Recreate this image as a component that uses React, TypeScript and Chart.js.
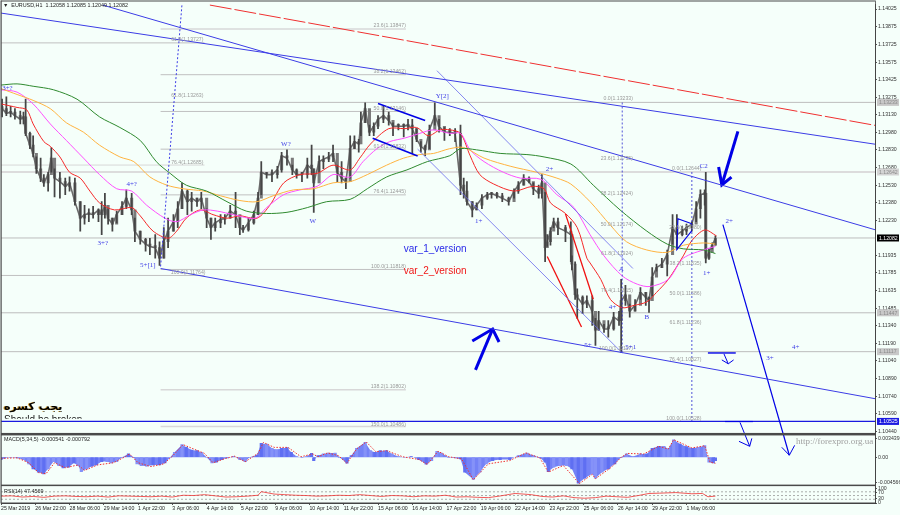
import React, { useEffect, useRef } from "react";
import { Chart, registerables } from "chart.js";
Chart.register(...registerables);

// ---------- time axis ----------
const dateLabels = ["25 Mar 2019","26 Mar 22:00","28 Mar 06:00","29 Mar 14:00","1 Apr 22:00","3 Apr 06:00","4 Apr 14:00","5 Apr 22:00","9 Apr 06:00","10 Apr 14:00","11 Apr 22:00","15 Apr 06:00","16 Apr 14:00","17 Apr 22:00","19 Apr 06:00","22 Apr 14:00","23 Apr 22:00","25 Apr 06:00","26 Apr 14:00","29 Apr 22:00","1 May 06:00"];
const priceTicks = [1.14025,1.13875,1.13725,1.13575,1.13425,1.13275,1.1313,1.1298,1.1283,1.1268,1.1253,1.1238,1.1223,1.11935,1.11785,1.11635,1.11485,1.1134,1.1119,1.1104,1.1089,1.1074,1.1059,1.1044];

// ---------- price ----------
const priceBars = [1,5,9,13,18,21,23,27,30,33,37,40,44,47,50,55,60,64,69,74,78,82,86,91,94,97,100,104,108,113,117,122,125,130,135,139,144,148,152,156,161,165,169,174,178,183,187,192,196,200,205,209,214,219,223,226,231,236,240,243,248,253,258,262,267,272,276,281,286,290,292,297,301,306,310,314,318,322,326,330,334,336,340,344,348,352,357,362,366,371,376,380,384,388,392,396,400,405,409,414,419,424,429,432,435,440,444,449,454,458,463,468,474,479,483,488,493,497,502,505,508,510,513,516,520,527,532,533,536,538,543,547,552,555,558,563,567,572,577,579,583,587,592,597,602,605,608,612,617,622,627,631,636,640,645,649,653,657,658,661,664,667];
const highs = [1.1326,1.1328,1.1320,1.1318,1.1316,1.1315,1.1326,1.1298,1.1295,1.1277,1.1276,1.1262,1.1264,1.1285,1.1267,1.1264,1.1259,1.1260,1.1259,1.1239,1.1236,1.1233,1.1235,1.1233,1.1239,1.1246,1.1233,1.1225,1.1231,1.1239,1.1249,1.1246,1.1225,1.1214,1.1208,1.1208,1.1211,1.1205,1.1217,1.1225,1.1228,1.1239,1.1255,1.1249,1.1247,1.1242,1.1247,1.1233,1.1225,1.1225,1.1228,1.1228,1.1236,1.1247,1.1225,1.1219,1.1225,1.1231,1.1247,1.1273,1.1264,1.1266,1.1269,1.1281,1.1283,1.1270,1.1267,1.1264,1.1276,1.1287,1.1267,1.1278,1.1278,1.1281,1.1287,1.1270,1.1273,1.1259,1.1295,1.1295,1.1292,1.1315,1.1323,1.1304,1.1306,1.1312,1.1320,1.1315,1.1306,1.1305,1.1305,1.1309,1.1309,1.1301,1.1290,1.1287,1.1304,1.1323,1.1309,1.1302,1.1301,1.1301,1.1304,1.1259,1.1256,1.1239,1.1238,1.1245,1.1247,1.1247,1.1247,1.1246,1.1243,1.1250,1.1256,1.1262,1.1260,1.1255,1.1253,1.1262,1.1247,1.1211,1.1217,1.1225,1.1225,1.1219,1.1222,1.1193,1.1188,1.1165,1.1159,1.1159,1.1159,1.1140,1.1146,1.1135,1.1138,1.1145,1.1146,1.1173,1.1168,1.1152,1.1156,1.1166,1.1162,1.1158,1.1183,1.1186,1.1191,1.1198,1.1228,1.1228,1.1218,1.1220,1.1222,1.1239,1.1249,1.1249,1.1264,1.1199,1.1204,1.1210];
const lows = [1.1311,1.1312,1.1311,1.1309,1.1305,1.1305,1.1295,1.1284,1.1277,1.1263,1.1256,1.1252,1.1248,1.1264,1.1243,1.1242,1.1245,1.1248,1.1236,1.1214,1.1220,1.1222,1.1225,1.1222,1.1211,1.1225,1.1220,1.1214,1.1221,1.1228,1.1233,1.1228,1.1205,1.1203,1.1197,1.1194,1.1191,1.1185,1.1191,1.1200,1.1214,1.1217,1.1233,1.1228,1.1231,1.1235,1.1233,1.1217,1.1207,1.1214,1.1217,1.1220,1.1225,1.1217,1.1211,1.1213,1.1214,1.1220,1.1228,1.1245,1.1259,1.1256,1.1259,1.1264,1.1270,1.1262,1.1259,1.1256,1.1259,1.1262,1.1230,1.1264,1.1267,1.1273,1.1273,1.1256,1.1255,1.1250,1.1259,1.1284,1.1281,1.1295,1.1306,1.1295,1.1295,1.1301,1.1306,1.1304,1.1295,1.1300,1.1294,1.1300,1.1280,1.1290,1.1281,1.1278,1.1284,1.1304,1.1298,1.1291,1.1295,1.1290,1.1245,1.1242,1.1236,1.1226,1.1232,1.1233,1.1241,1.1242,1.1242,1.1239,1.1236,1.1242,1.1246,1.1253,1.1255,1.1245,1.1242,1.1242,1.1188,1.1201,1.1202,1.1217,1.1211,1.1205,1.1188,1.1181,1.1156,1.1140,1.1144,1.1149,1.1134,1.1117,1.1130,1.1128,1.1124,1.1130,1.1134,1.1111,1.1151,1.1141,1.1146,1.1156,1.1151,1.1145,1.1159,1.1180,1.1183,1.1176,1.1203,1.1199,1.1210,1.1211,1.1214,1.1222,1.1225,1.1236,1.1187,1.1190,1.1199,1.1202];
const closes = [1.1318,1.1314,1.1315,1.1312,1.1309,1.1311,1.1297,1.1287,1.1280,1.1267,1.1259,1.1255,1.1262,1.1276,1.1259,1.1256,1.1252,1.1255,1.1239,1.1225,1.1228,1.1229,1.1228,1.1232,1.1228,1.1236,1.1225,1.1220,1.1228,1.1235,1.1242,1.1232,1.1214,1.1207,1.1203,1.1201,1.1200,1.1191,1.1205,1.1214,1.1222,1.1233,1.1248,1.1239,1.1242,1.1239,1.1242,1.1225,1.1217,1.1221,1.1224,1.1225,1.1231,1.1228,1.1217,1.1215,1.1221,1.1228,1.1242,1.1264,1.1262,1.1262,1.1266,1.1278,1.1276,1.1266,1.1262,1.1262,1.1270,1.1267,1.1255,1.1273,1.1275,1.1277,1.1280,1.1264,1.1259,1.1256,1.1284,1.1290,1.1288,1.1306,1.1318,1.1298,1.1303,1.1309,1.1312,1.1308,1.1303,1.1303,1.1303,1.1304,1.1301,1.1292,1.1286,1.1283,1.1300,1.1312,1.1303,1.1298,1.1298,1.1297,1.1253,1.1248,1.1239,1.1232,1.1236,1.1242,1.1245,1.1246,1.1244,1.1242,1.1239,1.1248,1.1253,1.1259,1.1256,1.1250,1.1246,1.1255,1.1200,1.1205,1.1214,1.1222,1.1217,1.1214,1.1211,1.1186,1.1160,1.1158,1.1152,1.1155,1.1146,1.1130,1.1138,1.1131,1.1131,1.1141,1.1138,1.1155,1.1160,1.1146,1.1151,1.1162,1.1158,1.1155,1.1175,1.1183,1.1186,1.1194,1.1217,1.1211,1.1214,1.1217,1.1220,1.1233,1.1245,1.1246,1.1191,1.1196,1.1202,1.1208];

// ---------- moving averages [bar, price] ----------
const maRed = [[0,1.1322],[15,1.1319],[24,1.1317],[30,1.1305],[40,1.1290],[46,1.1286],[55,1.1277],[64,1.1264],[74,1.1259],[83,1.1248],[92,1.1238],[106,1.1232],[122,1.1234],[130,1.1227],[142,1.1214],[156,1.1208],[164,1.1214],[173,1.1225],[186,1.1232],[198,1.1228],[211,1.1225],[223,1.1227],[239,1.1225],[251,1.1236],[264,1.1255],[279,1.1262],[295,1.1263],[310,1.1270],[326,1.1266],[335,1.1276],[345,1.1288],[362,1.1301],[377,1.1301],[388,1.1302],[399,1.1295],[410,1.1300],[419,1.1300],[429,1.1297],[438,1.1278],[447,1.1262],[460,1.1254],[479,1.1248],[496,1.1252],[507,1.1250],[513,1.1238],[527,1.1229],[538,1.1217],[547,1.1191],[550,1.1187],[560,1.1173],[569,1.1156],[580,1.1149],[591,1.1151],[603,1.1154],[612,1.1162],[623,1.1173],[637,1.1193],[645,1.1206],[657,1.1215],[668,1.1210]];
const maMagenta = [[0,1.1334],[15,1.1332],[30,1.1322],[46,1.1305],[61,1.1291],[77,1.1276],[92,1.1262],[108,1.1250],[122,1.1248],[136,1.1236],[153,1.1225],[164,1.1222],[177,1.1228],[189,1.1232],[202,1.1231],[217,1.1228],[237,1.1225],[248,1.1234],[264,1.1245],[279,1.1249],[295,1.1252],[310,1.1262],[326,1.1260],[338,1.1273],[351,1.1284],[363,1.1290],[377,1.1293],[391,1.1297],[404,1.1300],[419,1.1297],[429,1.1297],[438,1.1283],[451,1.1273],[469,1.1264],[485,1.1259],[504,1.1258],[519,1.1245],[535,1.1234],[550,1.1211],[563,1.1193],[580,1.1176],[594,1.1169],[606,1.1167],[623,1.1173],[637,1.1191],[659,1.1199],[667,1.1201]];
const maOrange = [[0,1.1335],[15,1.1330],[30,1.1325],[46,1.1318],[61,1.1306],[77,1.1298],[92,1.1287],[111,1.1277],[124,1.1273],[139,1.1260],[155,1.1253],[170,1.1250],[189,1.1248],[205,1.1244],[223,1.1240],[239,1.1239],[254,1.1244],[273,1.1249],[292,1.1250],[310,1.1255],[326,1.1256],[342,1.1262],[360,1.1270],[376,1.1276],[391,1.1279],[404,1.1280],[419,1.1284],[432,1.1285],[451,1.1276],[476,1.1269],[500,1.1264],[519,1.1259],[532,1.1254],[550,1.1239],[569,1.1219],[584,1.1205],[603,1.1198],[622,1.1196],[637,1.1202],[656,1.1204],[667,1.1203]];
const maGreen = [[0,1.1338],[15,1.1339],[30,1.1337],[49,1.1334],[71,1.1326],[92,1.1311],[111,1.1302],[130,1.1291],[145,1.1273],[158,1.1263],[173,1.1253],[192,1.1248],[211,1.1239],[229,1.1231],[248,1.1229],[267,1.1230],[286,1.1234],[304,1.1239],[326,1.1241],[342,1.1250],[360,1.1260],[379,1.1266],[398,1.1273],[419,1.1278],[429,1.1284],[444,1.1283],[466,1.1280],[491,1.1279],[507,1.1277],[532,1.1271],[553,1.1253],[578,1.1232],[603,1.1214],[622,1.1203],[637,1.1199],[656,1.1198],[667,1.1195]];

// ---------- MACD ----------
const macdBars = [0,3,9,15,21,26,30,35,40,44,49,54,58,63,68,72,75,80,85,89,94,99,103,108,113,119,124,127,131,136,142,148,153,158,162,169,173,178,183,187,192,197,201,206,211,217,223,228,232,239,243,248,253,257,262,267,271,276,281,285,290,292,296,301,306,312,316,323,327,332,340,345,349,354,360,365,371,377,383,390,397,402,407,411,418,429,433,441,447,453,459,466,475,483,491,497,503,508,511,516,522,528,533,539,545,552,555,561,567,573,579,584,590,597,603,608,614,619,623,628,634,640,646,651,657,661,665,667];
const macdValues = [-0.00042,-0.00018,0,-0.00012,-0.00042,-0.0012,-0.00211,-0.00272,-0.00302,-0.00211,-0.00078,-0.00151,-0.00193,-0.00181,-0.00103,-0.00151,-0.0026,-0.00211,-0.00162,-0.00139,-0.00078,-0.00078,-0.00103,-0.00078,0,0.00061,0,-0.0012,-0.00151,-0.00162,-0.00139,-0.00139,-0.00103,0,0.00091,0.00229,0.00181,0.00133,0.0012,0.00091,0,-0.00103,-0.00091,-0.00042,-0.00012,0.00018,-0.00042,-0.00078,0,0.00042,0.00253,0.00241,0.00162,0.00139,0.00162,0.00175,0.00091,0.00012,-0.00006,0.00012,0.00073,-0.00061,0.0003,0.00061,0.00078,0.00078,0,-0.00108,0.0003,0.00162,0.00272,0.0012,0.00091,0.0012,0.0012,0.00061,0.00012,0,0.00012,-0.00042,-0.00127,-0.00061,0.00108,0.00078,0,-0.0003,-0.00272,-0.00404,-0.00272,-0.0012,-0.00061,-0.00042,-0.00042,0.0003,0.00078,0.0003,-0.00006,-0.00091,-0.0026,-0.00181,-0.00151,-0.00151,-0.00211,-0.00471,-0.0038,-0.00302,-0.0038,-0.00272,-0.00211,-0.0012,0,0.00061,0.00012,0.00061,0.00061,0.00162,0.00199,0.00199,0.00151,0.00319,0.00241,0.00193,0.00162,0.00181,0.00211,-0.00091,-0.00103,-0.00061];
const macdSignal = [[0,-0.0002],[15,-0.0001],[26,-0.001],[35,-0.0028],[42,-0.003],[50,-0.001],[60,-0.0019],[72,-0.0014],[78,-0.0024],[90,-0.0014],[105,-0.001],[115,0],[120,0.0006],[128,-0.001],[140,-0.0017],[152,-0.0012],[160,0.0002],[170,0.0023],[180,0.0015],[190,0.0007],[198,-0.001],[210,-0.0002],[218,0.0002],[228,-0.0008],[240,0.0007],[245,0.0027],[255,0.0018],[268,0.0018],[280,0.0001],[291,0.0006],[296,0.0001],[305,0.0008],[315,0.0003],[323,-0.0011],[332,0.0015],[341,0.0028],[350,0.001],[360,0.0012],[375,0.0001],[390,-0.0004],[398,-0.0013],[408,0.0011],[418,0.0001],[430,-0.0003],[441,-0.0041],[455,-0.0012],[475,-0.0006],[490,0.0008],[503,-0.0001],[511,-0.0027],[525,-0.0015],[540,-0.0048],[552,-0.0031],[555,-0.0039],[570,-0.0018],[579,0],[585,0.0007],[600,0.0006],[614,0.002],[623,0.0015],[628,0.0032],[645,0.0017],[657,0.0021],[662,-0.0009],[667,-0.0011]];

// ---------- RSI ----------
const rsiBars = [0,10,20,30,40,50,60,70,80,90,100,110,120,130,140,150,160,170,180,190,200,210,220,230,240,243,255,265,275,285,295,305,315,325,335,345,355,365,375,385,395,405,415,425,435,445,455,465,475,480,495,505,515,525,535,545,555,565,575,585,595,605,615,630,645,655,660,667];
const rsiValues = [46,48,40,44,38,46,48,44,42,46,40,48,46,44,42,46,40,52,50,56,48,40,42,46,52,76,60,56,52,50,46,48,52,50,56,50,44,50,48,42,48,46,52,40,42,38,36,46,58,64,56,44,40,48,36,32,36,46,42,38,50,64,66,70,62,64,42,46];
const rsiLevels = [75, 50, 25];

// ---------- drawn objects, [bar, price] ----------
const channelTop = [[0,1.13991],[816,1.12878]];
const channelMid = [[95,1.14059],[816,1.12152]];
const channelLow = [[149,1.11823],[816,1.10718]];
const redDashed = [[195,1.14059],[816,1.13038]];
const thinDiagA = [[407,1.13502],[590,1.11823]];
const thinDiagB = [[389,1.12836],[580,1.11106]];
const slantDotted = [[149,1.1184],[169,1.14067]];
const fibVertA = [[580,1.13232],[580,1.11115]];
const fibVertB = [[645,1.12642],[645,1.10524]];
const flagTop = [[352,1.13224],[396,1.1308]];
const flagBottom = [[347,1.12928],[389,1.12777]];
const triangle = [[645,1.12203],[632,1.12245],[631,1.11984],[645,1.12144]];
const redTrendA = [[527,1.12287],[553,1.11562]];
const redTrendB = [[510,1.11925],[542,1.11326]];
const bigArrowUp = [[443,1.10963],[459,1.11309]];
const bigArrowUpHead = [[440,1.11208],[459,1.11309],[465,1.11199]];
const bigArrowDown = [[688,1.12987],[673,1.12532]];
const bigArrowDownHead = [[670,1.12684],[673,1.12532],[682,1.12599]];
const projection = [[674,1.12195],[736,1.10238]];
const projectionHead = [[729,1.10305],[736,1.10238],[741,1.10322]];
const stopA = [[660,1.11106],[686,1.11106]];
const stopAArrow = [[675,1.11098],[679,1.11014]];
const stopAHead = [[673,1.11047],[679,1.11014],[684,1.11047]];
const stopB = [[676,1.10524],[702,1.10524]];
const stopBArrow = [[690,1.10516],[699,1.10314]];
const stopBHead = [[689,1.10356],[699,1.10314],[701,1.10381]];

const fullLevels = [1.13233, 1.11447, 1.11117, 1.12082];
const lightLevel = 1.12642;
const blueLevel = 1.10525;
const fibALevels = [1.13856, 1.13468, 1.13156, 1.12836, 1.12448, 1.11815, 1.10794, 1.10482];
const fibARange = [149, 378];
const fibBLevels = [1.13738, 1.12701, 1.11764];
const fibBRange = [0, 190];

// ---------- texts [text, bar, price] ----------
const waveLabels: [string, number, number][] = [["3+?",6,1.1335],["3+?",95,1.12034],["4+?",122,1.1254],["5+[1]",137,1.11849],["W?",266,1.12878],["W",291,1.12228],["Y[2]",412,1.13283],["1+",446,1.12228],["2+",512,1.12667],["C2",656,1.12692],["2+",680,1.12228],["1+",659,1.11781],["A",579,1.11815],["B",603,1.1141],["4+",571,1.11495],["5+",548,1.11174],["5+1",588,1.11157],["3+",718,1.11064],["4+",742,1.11157]];
const fibLabels: [string, number, number][] = [["23.6(1.13847)",378,1.13882],["38.2(1.13462)",378,1.13494],["50.0(1.13146)",378,1.13182],["61.8(1.12832)",378,1.12861],["76.4(1.12445)",378,1.12473],["100.0(1.11818)",378,1.1184],["138.2(1.10802)",378,1.1082],["150.0(1.10486)",378,1.10499],["61.8(1.13727)",189,1.13763],["61.8(1.13263)",189,1.13291],["76.4(1.12685)",189,1.12718],["100.0(1.11764)",191,1.1179],["0.0(1.13233)",590,1.13266],["23.6(1.12735)",590,1.1276],["38.2(1.12424)",590,1.12456],["50.0(1.12174)",590,1.12195],["61.8(1.11924)",590,1.1195],["76.4(1.11615)",590,1.11638],["100.0(1.11117)",590,1.1114],["0.0(1.12644)",654,1.12675],["23.6(1.12180)",654,1.12169],["38.2(1.11835)",654,1.11866],["50.0(1.11586)",654,1.11613],["61.8(1.11236)",654,1.1136],["76.4(1.10827)",654,1.11047],["100.0(1.10528)",654,1.1055]];
const priceTags: [number, string][] = [[1.13233,"#c8c8c8"],[1.12642,"#d4d4d4"],[1.11447,"#c8c8c8"],[1.11117,"#c8c8c8"],[1.12082,"#000000"],[1.10525,"#1a1ae0"]];

const BLUE = "#3c3ce6";
const SOLID = "#0000e6";
const pts = (a: number[][]) => a.map(([x, y]) => ({ x, y }));
const line = (a: number[][], color: string, borderWidth = 1, extra: any = {}) => ({
  type: "line", data: pts(a), borderColor: color, borderWidth, pointRadius: 0, tension: 0, xAxisID: "x", yAxisID: "y", clip: false, order: 1, ...extra,
});

export default function App() {
  const ref = useRef<HTMLCanvasElement>(null);
  useEffect(() => {
    const fullSpan = [0, 816];
    const hLine = (v: number, range: number[], color: string, w = 1) => line(range.map((x) => [x, v]), color, w, { order: 10, clip: true });
    const rsiLine = (v: number) => ({ type: "line", data: [{ x: 0, y: v }, { x: 816, y: v }], borderColor: "#888", borderWidth: 0.7, borderDash: [2, 2], pointRadius: 0, xAxisID: "x", yAxisID: "yRsi", order: 3 });
    const textPlugin = {
      id: "texts",
      afterDatasetsDraw(chart: any) {
        const { ctx, scales, chartArea } = chart;
        const X = scales.x, Y = scales.y, M = scales.yMacd, R = scales.yRsi;
        ctx.save();
        ctx.textBaseline = "middle";
        ctx.textAlign = "right";
        ctx.font = '5.2px "Liberation Sans"';
        ctx.fillStyle = "#9a9a9a";
        fibLabels.forEach(([t, b, p]) => ctx.fillText(t, X.getPixelForValue(b), Y.getPixelForValue(p)));
        ctx.textAlign = "center";
        ctx.font = '7px "Liberation Serif"';
        ctx.fillStyle = "#3c3ce6";
        waveLabels.forEach(([t, b, p]) => ctx.fillText(t, X.getPixelForValue(b), Y.getPixelForValue(p)));
        ctx.textAlign = "left";
        ctx.font = '10px "Liberation Sans"';
        ctx.fillStyle = "#2a2ae8";
        ctx.fillText("var_1_version", X.getPixelForValue(376), Y.getPixelForValue(1.11984));
        ctx.fillStyle = "#f01818";
        ctx.fillText("var_2_version", X.getPixelForValue(376), Y.getPixelForValue(1.11798));
        // clipped comment under the Persian note
        ctx.save();
        ctx.beginPath();
        ctx.rect(0, 412, 200, 6.8);
        ctx.clip();
        ctx.fillStyle = "#111";
        ctx.font = '10px "Liberation Sans"';
        ctx.fillText("Should be broken", 4, 420);
        ctx.restore();
        ctx.font = 'bold 11px "DejaVu Sans"';
        ctx.fillStyle = "#d9a030";
        ctx.fillText("يجب كسره", 3, 407.5);
        ctx.fillStyle = "#000";
        ctx.fillText("يجب كسره", 4, 407);
        // captions
        ctx.font = '5.4px "Liberation Sans"';
        ctx.fillStyle = "#222";
        ctx.fillText("▼  EURUSD,H1  1.12058 1.12085 1.12049 1.12082", 3, 6);
        ctx.fillText("MACD(5,34,5) -0.000541 -0.000792", 4, M.top + 6);
        ctx.fillText("RSI(14) 47.4569", 4, R.top + 6);
        ctx.font = '9px "Liberation Serif"';
        ctx.fillStyle = "#a0a0a0";
        ctx.fillText("http://forexpro.org.ua", 796, 442);
        // pane frames
        const l = chartArea.left, r = chartArea.right;
        ctx.fillStyle = "#4a4a4a";
        ctx.fillRect(l, M.top - 0.5, r - l, 2.5);
        ctx.fillRect(l, R.top - 0.5, r - l, 1.5);
        ctx.fillRect(l, chartArea.bottom - 0.5, r - l, 1.2);
        ctx.fillRect(l - 0.5, 0.5, 1.2, chartArea.bottom);
        ctx.fillRect(l, 0.5, r - l, 1);
        ctx.fillRect(r, 0.5, 0.8, chartArea.bottom);
        // price tags
        ctx.textAlign = "left";
        ctx.font = '5.2px "Liberation Sans"';
        priceTags.forEach(([v, c]) => {
          const y = Y.getPixelForValue(v);
          ctx.fillStyle = c;
          ctx.fillRect(r + 2, y - 3.5, 22, 7);
          ctx.fillStyle = c === "#000000" || c === "#1a1ae0" ? "#ffffff" : "#8a8a8a";
          ctx.fillText(v.toFixed(5), r + 4, y + 0.3);
        });
        ctx.restore();
      },
    };
    const common = (extra: any) => ({
      position: "right",
      stack: "panes",
      offset: false,
      grid: { drawOnChartArea: false, tickLength: 2, color: "#555" },
      border: { color: "#333" },
      afterFit: (s: any) => { s.width = 25; },
      ...extra,
    });
    const tickStyle = { padding: 1, color: "#333", autoSkip: false, font: { size: 5.2, family: "Liberation Sans" } };
    const chart = new Chart(ref.current as HTMLCanvasElement, {
      type: "line",
      data: {
        datasets: [
          ...fullLevels.map((v) => hLine(v, fullSpan, "#bdbdbd")),
          hLine(lightLevel, fullSpan, "#dcdcdc", 2),
          hLine(blueLevel, fullSpan, "#1a1ae0", 1.2),
          ...fibALevels.map((v, i) => hLine(v, fibARange, i === 0 || i >= 6 ? "#d8d8d8" : "#c0c0c0", i === 0 || i >= 6 ? 1.5 : 1)),
          ...fibBLevels.map((v, i) => hLine(v, fibBRange, i === 1 ? "#d8d8d8" : "#c0c0c0")),
          {
            type: "bar", label: "wicks", grouped: false, barThickness: 1.1, backgroundColor: "#454545", xAxisID: "x", yAxisID: "y", order: 4,
            data: priceBars.map((x, i) => ({ x, y: [lows[i], highs[i]] })),
          },
          {
            type: "bar", label: "bodies", grouped: false, barThickness: 2.4, backgroundColor: "#7a7a7a", minBarLength: 2, xAxisID: "x", yAxisID: "y", order: 6,
            data: priceBars.map((x, i) => ({ x, y: [Math.min(closes[i], i ? closes[i - 1] : closes[i]), Math.max(closes[i], i ? closes[i - 1] : closes[i])] })),
          },
          { type: "line", label: "close", data: priceBars.map((x, i) => ({ x, y: closes[i] })), borderColor: "#6a6a6a", borderWidth: 1.6, pointRadius: 0, xAxisID: "x", yAxisID: "y", order: 5 },
          line(maGreen, "#2f8a2f", 1, { order: 3, tension: 0.3, clip: true }),
          line(maOrange, "#ffb340", 1, { order: 3, tension: 0.3, clip: true }),
          line(maMagenta, "#ff50ff", 1, { order: 3, tension: 0.3, clip: true }),
          line(maRed, "#f52a2a", 1, { order: 3, tension: 0.3, clip: true }),
          line(channelTop, BLUE),
          line(channelMid, BLUE),
          line(channelLow, BLUE),
          line(redDashed, "#f03030", 1, { borderDash: [22, 3] }),
          line(thinDiagA, "#6a6aee", 0.8),
          line(thinDiagB, "#6a6aee", 0.8),
          line(slantDotted, BLUE, 1, { borderDash: [2, 2] }),
          line(fibVertA, "#2a2ad0", 0.8, { borderDash: [2, 2] }),
          line(fibVertB, "#2a2ad0", 0.8, { borderDash: [2, 2] }),
          line(flagTop, SOLID, 1.6),
          line(flagBottom, SOLID, 1.6),
          line(triangle, SOLID, 1.1),
          line(redTrendA, "#f01010", 1.3),
          line(redTrendB, "#f01010", 1.3),
          line(bigArrowUp, SOLID, 3),
          line(bigArrowUpHead, SOLID, 3),
          line(bigArrowDown, SOLID, 3),
          line(bigArrowDownHead, SOLID, 3),
          line(projection, SOLID, 1.2),
          line(projectionHead, SOLID, 1),
          line(stopA, SOLID, 1.4),
          line(stopAArrow, SOLID, 1),
          line(stopAHead, SOLID, 1),
          line(stopB, SOLID, 1.2),
          line(stopBArrow, SOLID, 1),
          line(stopBHead, SOLID, 1),
          {
            type: "line", label: "MACD area", data: macdBars.map((x, i) => ({ x, y: macdValues[i] })), borderWidth: 0, borderColor: "transparent", pointRadius: 0,
            fill: "origin", backgroundColor: "#7482f6", xAxisID: "x", yAxisID: "yMacd", order: 6,
          },
          {
            type: "bar", label: "MACD", grouped: false, barThickness: 2.5, xAxisID: "x", yAxisID: "yMacd", order: 5,
            backgroundColor: macdBars.map((_, i) => (Math.floor(i / 3) % 2 ? "#8592f8" : "#5f6ff2")),
            data: macdBars.map((x, i) => ({ x, y: macdValues[i] })),
          },
          { type: "line", label: "Signal", data: pts(macdSignal), borderColor: "#f03030", borderWidth: 1, borderDash: [1.5, 1.5], pointRadius: 0, xAxisID: "x", yAxisID: "yMacd", order: 3 },
          ...rsiLevels.map(rsiLine),
          { type: "line", label: "RSI", data: rsiBars.map((x, i) => ({ x, y: rsiValues[i] })), borderColor: "#f03030", borderWidth: 0.8, pointRadius: 0, xAxisID: "x", yAxisID: "yRsi", order: 2 },
        ] as any,
      },
      options: {
        animation: false,
        responsive: false,
        devicePixelRatio: 1,
        layout: { padding: { left: 1, top: 1, right: 0, bottom: 0 } },
        plugins: { legend: { display: false }, tooltip: { enabled: false }, filler: { propagate: false } },
        events: [],
        scales: {
          x: {
            type: "linear",
            min: 0,
            max: 816,
            offset: false,
            grid: { drawOnChartArea: false, tickLength: 2, color: "#555", offset: false },
            border: { color: "#333" },
            afterFit: (s: any) => { s.height = 12; },
            afterBuildTicks: (s: any) => { s.ticks = dateLabels.map((_, i) => ({ value: i * 32 })); },
            ticks: { align: "start", padding: 0, maxRotation: 0, autoSkip: false, color: "#222", font: { size: 5.2, family: "Liberation Sans" }, callback: (v: any) => dateLabels[Math.round(v / 32)] },
          },
          y: common({
            stackWeight: 432,
            min: 1.10423,
            max: 1.14067,
            afterBuildTicks: (s: any) => { s.ticks = priceTicks.map((value) => ({ value })); },
            ticks: { ...tickStyle, callback: (v: any) => Number(v).toFixed(5) },
          }),
          yMacd: common({
            stackWeight: 52,
            min: -0.00507,
            max: 0.00434,
            afterBuildTicks: (s: any) => { s.ticks = [0.003439, 0, -0.004566].map((value) => ({ value })); },
            ticks: { ...tickStyle, callback: (v: any) => (v === 0 ? "0.00" : Number(v).toFixed(6)) },
          }),
          yRsi: common({
            stackWeight: 18,
            min: 0,
            max: 120,
            afterBuildTicks: (s: any) => { s.ticks = [100, 70, 30, 0].map((value) => ({ value })); },
            ticks: { ...tickStyle, callback: (v: any) => String(v) },
          }),
        } as any,
      },
      plugins: [textPlugin],
    } as any);
    return () => chart.destroy();
  }, []);
  return (
    <div style={{ position: "fixed", left: 0, top: 0, width: 900, height: 515, background: "#ffffff" }}>
      <canvas ref={ref} width={900} height={515} style={{ display: "block", width: 900, height: 515, background: "#f5fffa" }} />
    </div>
  );
}
